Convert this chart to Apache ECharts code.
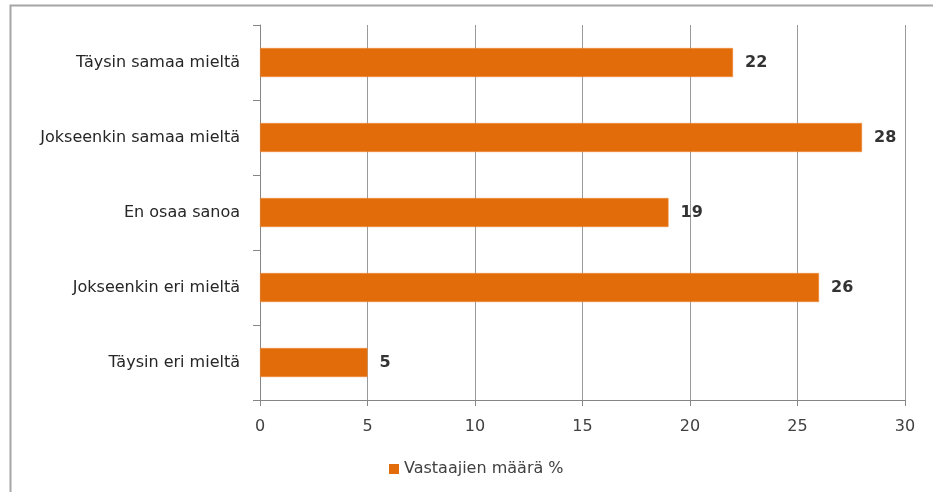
<!DOCTYPE html>
<html>
<head>
<meta charset="utf-8">
<script src="https://cdn.jsdelivr.net/npm/echarts@6/dist/echarts.min.js"></script>
<style>
  html, body { margin: 0; padding: 0; background: #fff; }
  #main { width: 933px; height: 492px; }
</style>
</head>
<body>
<div id="main"></div>
<script>
  const categories = [
    "Täysin samaa mieltä",
    "Jokseenkin samaa mieltä",
    "En osaa sanoa",
    "Jokseenkin eri mieltä",
    "Täysin eri mieltä",
  ];
  const values = [22, 28, 19, 26, 5];
  const seriesName = "Vastaajien määrä %";

  const font = "DejaVu Sans, Verdana, sans-serif";
  const myChart = echarts.init(document.getElementById("main"));
  myChart.setOption({
    animation: false,
    graphic: [
      {
        type: "rect",
        shape: { x: 10.5, y: 5.5, width: 1000, height: 1000 },
        style: { fill: "none", stroke: "#a6a6a6", lineWidth: 2 },
        silent: true,
      },
    ],
    grid: { left: 260, right: 28, top: 25, bottom: 92 },
    legend: {
      top: 456,
      left: 384,
      itemWidth: 10,
      itemHeight: 10,
      itemGap: 8,
      icon: "rect",
      itemStyle: { borderWidth: 0 },
      textStyle: { fontFamily: font, fontSize: 16, color: "#404040" },
    },
    xAxis: {
      type: "value",
      min: 0,
      max: 30,
      interval: 5,
      axisLine: { show: true, lineStyle: { color: "#868686", width: 1 } },
      axisTick: { show: true, length: 6, lineStyle: { color: "#868686" } },
      axisLabel: { fontFamily: font, fontSize: 16, color: "#404040", margin: 19 },
      splitLine: { show: true, lineStyle: { color: "#9a9a9a", width: 1 } },
    },
    yAxis: {
      type: "category",
      data: categories,
      inverse: true,
      axisLine: { show: true, lineStyle: { color: "#868686", width: 1 } },
      axisTick: { show: true, length: 7, lineStyle: { color: "#868686" } },
      axisLabel: { fontFamily: font, fontSize: 16, color: "#262626", margin: 20 },
    },
    series: [
      {
        name: seriesName,
        type: "bar",
        data: values,
        barWidth: 29,
        itemStyle: { color: "#E36C0A", borderColor: "#F08A3A", borderWidth: 0.5 },
        label: {
          show: true,
          position: "right",
          distance: 12,
          fontFamily: font,
          fontSize: 16,
          fontWeight: "bold",
          color: "#333333",
        },
      },
    ],
  });
</script>
</body>
</html>
